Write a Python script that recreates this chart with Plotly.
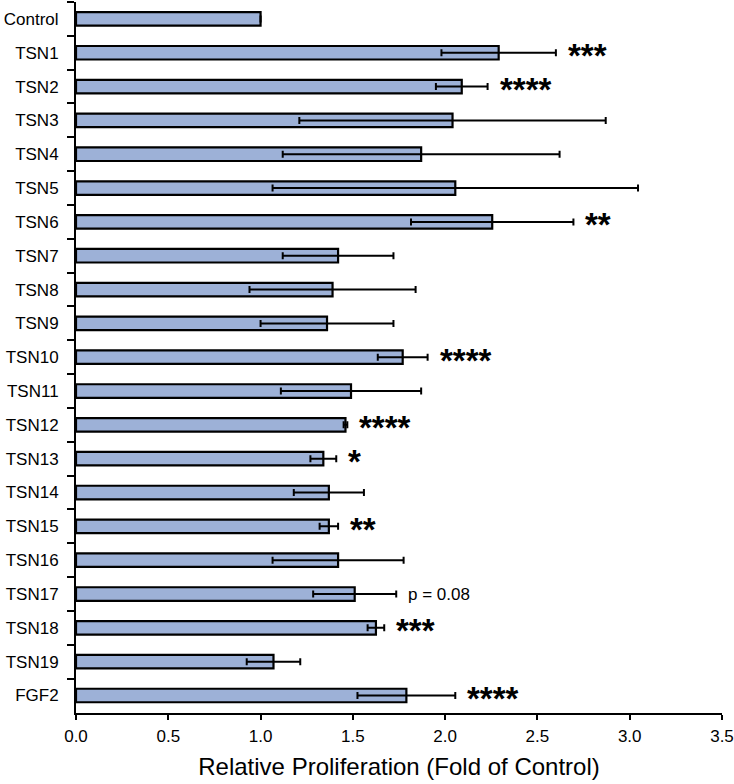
import plotly.graph_objects as go

categories = ["Control", "TSN1", "TSN2", "TSN3", "TSN4", "TSN5", "TSN6", "TSN7", "TSN8",
              "TSN9", "TSN10", "TSN11", "TSN12", "TSN13", "TSN14", "TSN15", "TSN16",
              "TSN17", "TSN18", "TSN19", "FGF2"]
values = [1.00, 2.29, 2.09, 2.04, 1.87, 2.055, 2.255, 1.42, 1.39,
          1.36, 1.77, 1.49, 1.46, 1.34, 1.37, 1.37, 1.42,
          1.51, 1.625, 1.07, 1.79]
errors = [0.0, 0.31, 0.14, 0.83, 0.75, 0.99, 0.44, 0.30, 0.45,
          0.36, 0.135, 0.38, 0.01, 0.07, 0.19, 0.05, 0.355,
          0.225, 0.045, 0.145, 0.265]
marks = ["", "***", "****", "", "", "", "**", "", "",
         "", "****", "", "****", "*", "", "**", "",
         "p = 0.08", "***", "", "****"]
x_ticks = [0.0, 0.5, 1.0, 1.5, 2.0, 2.5, 3.0, 3.5]

FONT = "Liberation Sans, Arial, Helvetica, sans-serif"

fig = go.Figure()
fig.add_trace(go.Bar(
    x=values, y=categories, orientation="h", width=0.4,
    marker=dict(color="#9DB1D7", line=dict(color="black", width=2.2)),
    error_x=dict(type="data", array=errors, visible=True, color="black",
                 thickness=2, width=3.5),
    showlegend=False, hoverinfo="x+y",
))

for c, v, e, m in zip(categories, values, errors, marks):
    if not m:
        continue
    if m.startswith("p"):
        fig.add_annotation(x=v + e, y=c, text=m, showarrow=False, xanchor="left",
                           xshift=10, yshift=0,
                           font=dict(family=FONT, size=17, color="black"))
    else:
        fig.add_annotation(x=v + e, y=c, text="<b>" + m + "</b>", showarrow=False,
                           xanchor="left", xshift=10, yshift=-3,
                           font=dict(family=FONT, size=33, color="black"))

fig.update_layout(
    width=734, height=784,
    margin=dict(l=76, r=12, t=2, b=71),
    plot_bgcolor="white", paper_bgcolor="white",
    font=dict(family=FONT, size=17, color="black"),
    bargap=0.6,
)
fig.update_xaxes(
    range=[0, 3.5], tickvals=x_ticks, ticktext=[f"{t:.1f}" for t in x_ticks],
    showgrid=False, zeroline=False, showline=True, linecolor="black", linewidth=2,
    ticks="outside", ticklen=5, tickwidth=2, tickcolor="black",
    tickfont=dict(family=FONT, size=17), ticklabelstandoff=2, automargin=False,
    title=dict(text="Relative Proliferation (Fold of Control)",
               font=dict(family=FONT, size=24), standoff=13),
)
fig.update_yaxes(
    categoryorder="array", categoryarray=categories, autorange="reversed",
    showgrid=False, zeroline=False, showline=True, linecolor="black", linewidth=2,
    ticks="outside", ticklen=7, tickwidth=2, tickcolor="black", tickson="boundaries",
    tickfont=dict(family=FONT, size=17), ticklabelstandoff=12, automargin=False,
)

fig.write_html("out.html", config={"displayModeBar": False},
               post_script="document.body.style.margin='0px';")
